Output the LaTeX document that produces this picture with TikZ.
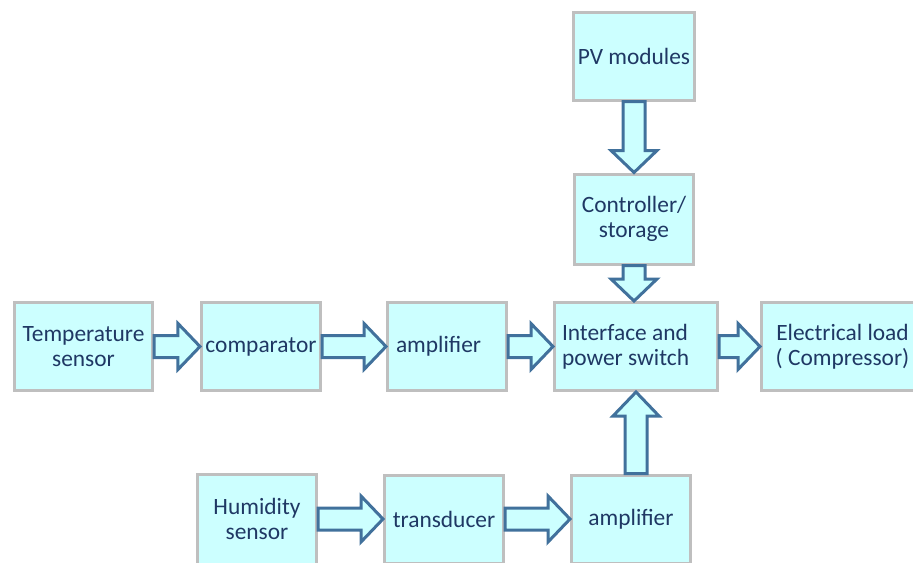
\documentclass[tikz,border=0pt]{standalone}
\usepackage{fontspec}
\setmainfont{Carlito}
\usetikzlibrary{calc}

\definecolor{boxfill}{RGB}{204,255,255}
\definecolor{boxline}{RGB}{191,191,191}
\definecolor{arrowline}{RGB}{65,113,156}
\definecolor{textblue}{RGB}{31,56,100}

\begin{document}
\begin{tikzpicture}[x=0.5pt, y=-0.5pt]
			\tikzstyle{Block}	= [draw=boxline, line width=1.5pt, fill=boxfill, text=textblue, minimum width=59.5pt, minimum height=44pt, inner sep=2pt, align=center, font=\fontsize{11.7}{12.5}\selectfont]
			\tikzstyle{BigArrow}	= [draw=arrowline, fill=boxfill, line width=1.5pt, line join=miter]
			
			\clip (0,0) rectangle (913,562);
			
			\node (pv) at (634,56) [Block] {PV modules};
			\node (ctrl) at (634,219) [Block, minimum height=45pt] {Controller/\\storage};
			\node (temp) at (83.5,346.5) [Block, minimum width=69pt] {Temperature\\sensor};
			\node (comp) at (261,346.5) [Block] {comparator};
			\node (amp) at (447,346.5) [Block, text width=51pt, align=flush left] {amplifier};
			\node (intf) at (636,346.5) [Block, minimum width=81.5pt, text width=74pt, align=flush left] {Interface and\\power switch};
			\node (load) at (842.5,346.5) [Block, minimum width=81pt] {Electrical load\\( Compressor)};
			\node (hum) at (257,519) [Block, minimum height=45pt] {Humidity\\sensor};
			\node (trans) at (444,519) [Block] {transducer};
			\node (amp2) at (631,519) [Block] {amplifier};
			
			\foreach \a/\b in {temp/comp, comp/amp, amp/intf, intf/load, hum/trans, trans/amp2}
				\draw [BigArrow] let \p1 = (\a.east), \p2 = (\b.west) in
					(\x1, \y1+5.5pt) -- (\x2-11pt, \y1+5.5pt) -- (\x2-11pt, \y1+11.5pt) -- (\x2, \y1)
					-- (\x2-11pt, \y1-11.5pt) -- (\x2-11pt, \y1-5.5pt) -- (\x1, \y1-5.5pt) -- cycle;
			
			\foreach \a/\b in {pv/ctrl, ctrl/intf}
				\draw [BigArrow] let \p1 = (\a.south), \p2 = (\b.north) in
					(\x1-5.5pt, \y1) -- (\x1-5.5pt, \y2+11pt) -- (\x1-11.5pt, \y2+11pt) -- (\x1, \y2)
					-- (\x1+11.5pt, \y2+11pt) -- (\x1+5.5pt, \y2+11pt) -- (\x1+5.5pt, \y1) -- cycle;
			
			\draw [BigArrow] let \p1 = (amp2.north), \p2 = (intf.south) in
				(\x2-5.5pt, \y1) -- (\x2-5.5pt, \y2-12pt) -- (\x2-11.5pt, \y2-12pt) -- (\x2, \y2)
				-- (\x2+11.5pt, \y2-12pt) -- (\x2+5.5pt, \y2-12pt) -- (\x2+5.5pt, \y1) -- cycle;
		\end{tikzpicture}
\end{document}
